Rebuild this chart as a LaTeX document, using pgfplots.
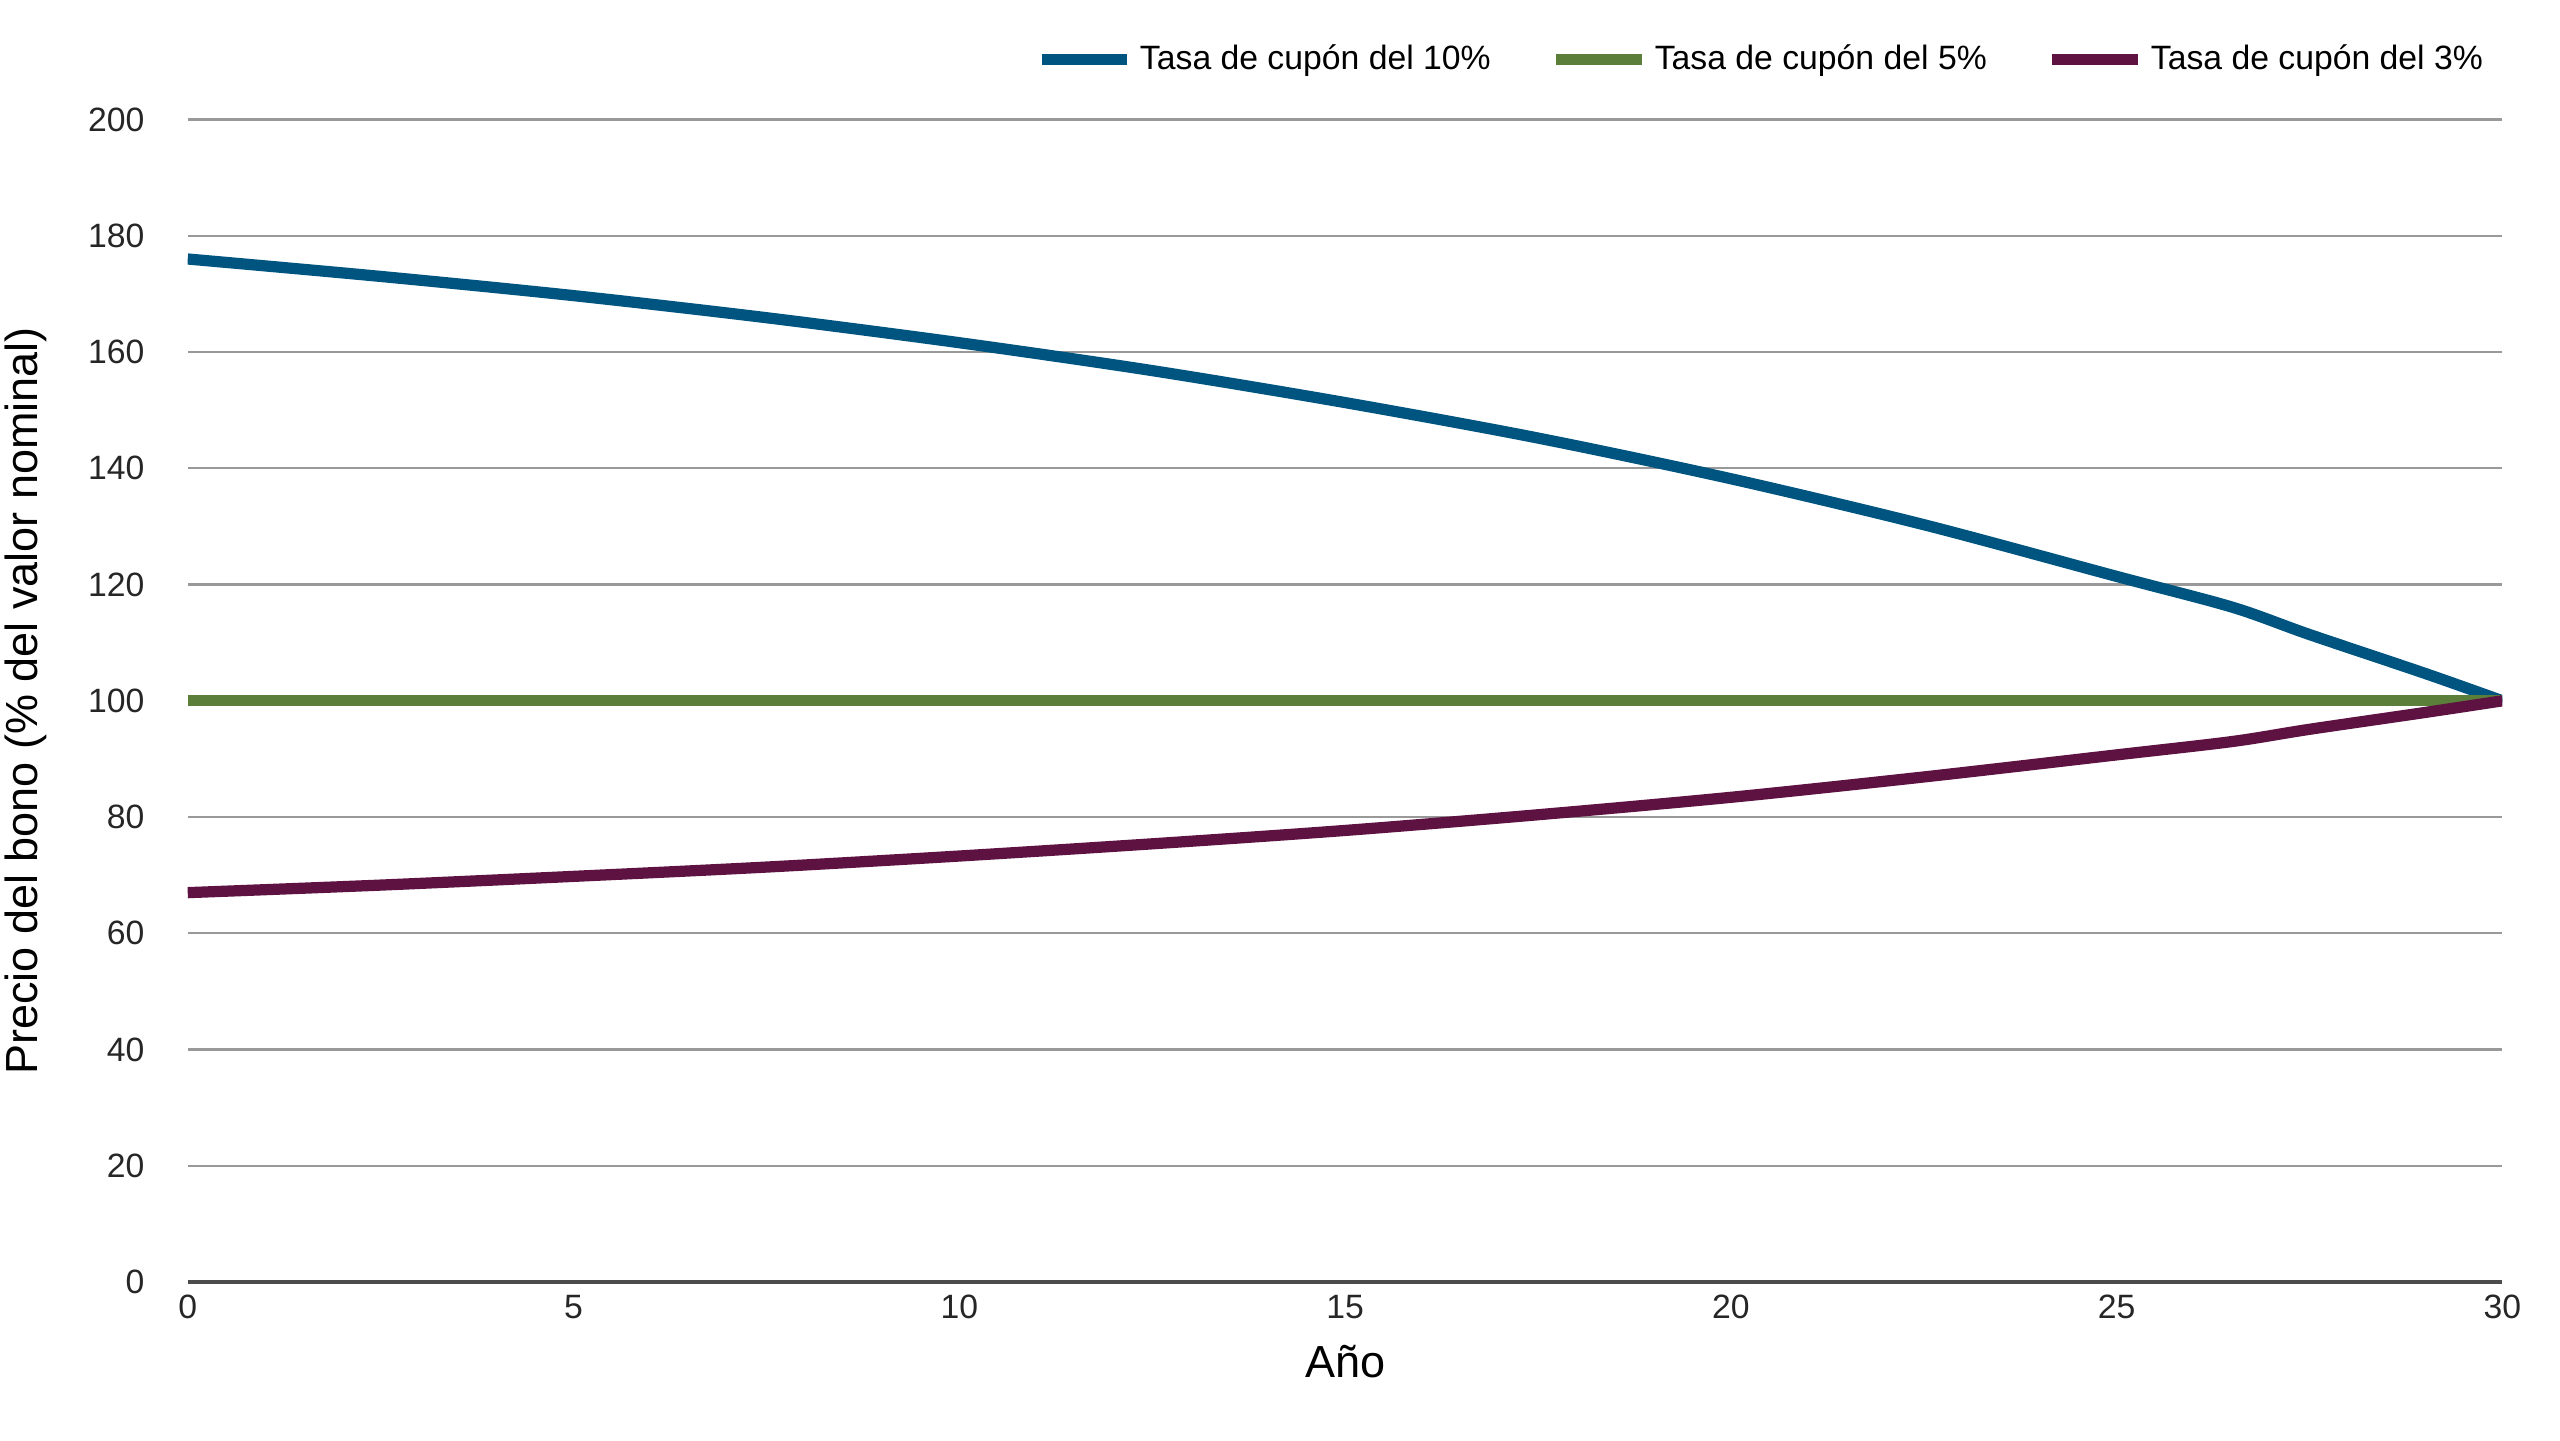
\documentclass[border=0pt]{standalone}
\usepackage{pgfplots}
\pgfplotsset{compat=1.18}
\usepackage{fontspec}
\setmainfont{Liberation Sans}
\definecolor{cblue}{HTML}{005480}
\definecolor{cgreen}{HTML}{5B7F3A}
\definecolor{cpurple}{HTML}{5E1241}
\begin{document}
\begin{tikzpicture}
\path[use as bounding box] (-1.76cm,-1.48cm) rectangle (22.24cm,12.02cm);
\begin{axis}[
  scale only axis, width=21.7cm, height=10.9cm,
  xmin=0, xmax=30, ymin=0, ymax=200,
  xtick={0,5,...,30}, ytick={0,20,...,200},
  axis x line*=bottom, axis y line*=left,
  y axis line style={draw=none},
  ymajorgrids, major grid style={gray!80, line width=0.6pt},
  x axis line style={black!70, line width=1.2pt, -},
  tick style={draw=none},
  tick label style={font=\fontsize{9}{10}\selectfont, text=black!85},
  /pgf/number format/assume math mode=true,
  xlabel={Año}, ylabel={Precio del bono (\% del valor nominal)},
  label style={font=\fontsize{12}{14}\selectfont},
  yticklabel style={xshift=-8pt},
  ylabel style={at={(axis description cs:-0.055,0.5)}, anchor=south},
  legend style={at={(1,1.025)}, anchor=south east, draw=none, legend columns=3,
    font=\fontsize{9}{10}\selectfont, /tikz/every even column/.append style={column sep=14pt}},
  legend image code/.code={\draw[#1, line width=3pt] (0cm,0cm) -- (0.8cm,0cm);},
  every axis plot/.append style={line width=3pt},
]
\addplot[cblue, smooth] coordinates {(0,176.0)(2.5,173.0)(5,169.7)(7.5,165.9)(10,161.6)(12.5,156.8)(15,151.3)(17.5,145.2)(20,138.2)(22.5,130.3)(25,121.4)(26.5,116.1)(27.5,111.4)(29,104.7)(30,100)};
\addlegendentry{Tasa de cupón del 10\%}
\addplot[cgreen] coordinates {(0,100)(30,100)};
\addlegendentry{Tasa de cupón del 5\%}
\addplot[cpurple, smooth] coordinates {(0,67.0)(2.5,68.3)(5,69.8)(7.5,71.4)(10,73.3)(12.5,75.4)(15,77.7)(17.5,80.4)(20,83.4)(22.5,86.9)(25,90.7)(26.5,93.0)(27.5,95.1)(29,98.0)(30,100)};
\addlegendentry{Tasa de cupón del 3\%}
\end{axis}
\end{tikzpicture}
\end{document}
